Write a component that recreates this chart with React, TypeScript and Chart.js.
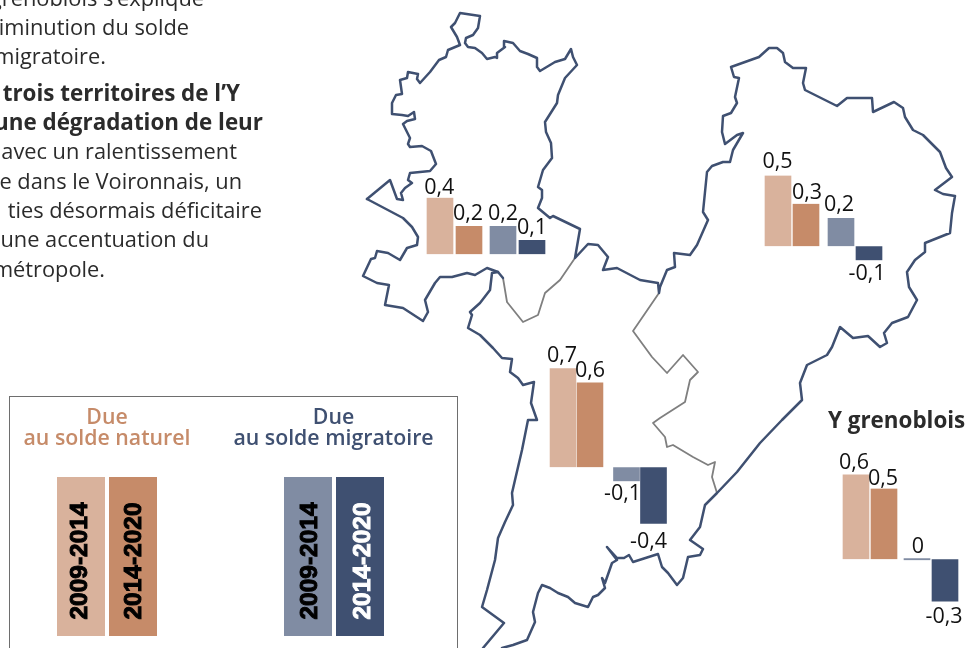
import React, { useEffect, useRef } from 'react';
import Chart from 'chart.js/auto';

// ---------- Data ----------
const territories = ['Pays voironnais', 'Grésivaudan', 'Grenoble-Alpes Métropole', 'Y grenoblois'];
const components = ['Due au solde naturel', 'Due au solde migratoire'];
const periods = ['2009-2014', '2014-2020'];
const naturel2009 = [0.4, 0.5, 0.7, 0.6];
const naturel2014 = [0.2, 0.3, 0.6, 0.5];
const migratoire2009 = [0.2, 0.2, -0.1, 0];
const migratoire2014 = [0.1, -0.1, -0.4, -0.3];

const colors = { nat09: '#D9B29C', nat14: '#C68B69', mig09: '#808CA3', mig14: '#3F5071' };

// Map outlines (map coordinates)
const outerNorthX = [367,390,397,403,401,405,412,408,410,430,436,431,422,410,408,410,407,403,407,415,414,408,402,392,392,396,402,400,407,408,418,417,420,430,439,446,448,460,457,451,455,460,480,478,473,466,465,468,475,482,487,495,497,497,505,504,513,520,528,537,537,540,555,565,571,573,577,565,558,557,545,546,551,552,543,538,542,542,538,550,553,580,575,588,598,608,603,617,640,658,659,660,667,675,674,690,697,708,703,707,712,723,730,733,743,737,725,722,723,731,737,735,739,734,731,759,769,777,783,785,793,806,803,805,837,847,872,873,894,903,905,913,923,940,946,952,935,943,955,952,950,925,925,915,907,909,917,908,892,884,887,880,868,853,840,832,827,807,800,802,782,760,737,717,705,700,690,703,700,688,683,677,668,662,658,633,629,624,617,607,617,612,605,602,605,598,593,588,575,568,558,550,542,538,533,535,527,513,502];
const outerNorthY = [199,180,199,200,193,188,183,180,173,171,164,151,146,147,144,138,132,124,121,119,112,116,115,114,103,95,94,80,78,72,74,79,83,72,60,57,50,45,37,27,23,13,16,28,35,38,43,47,48,53,59,57,58,53,47,41,43,51,54,58,67,71,62,59,49,57,65,78,95,103,122,132,143,158,170,187,190,198,208,218,216,229,258,244,245,257,270,268,280,283,293,287,270,267,253,255,245,220,212,172,166,162,162,150,133,135,144,132,116,113,103,97,78,77,67,57,48,48,53,62,68,68,83,90,106,98,98,112,102,108,117,130,135,152,168,177,190,194,196,213,233,243,252,260,272,287,300,317,323,333,343,347,336,338,327,347,355,365,383,400,420,443,472,493,505,527,540,549,555,557,578,585,573,567,554,562,555,558,558,547,560,563,583,578,588,595,597,607,603,597,593,588,585,593,612,622,640,645,648];
const westSouthX = [367,403,412,418,417,407,400,388,377,375,371,363,377,389,385,403,423,428,425,435,440,452,467,475,487,498,503];
const westSouthY = [199,218,227,237,245,248,260,253,251,258,259,276,283,285,305,308,321,312,300,283,277,277,273,275,268,272,278];
const westBorderX = [483,504,482,487,495,498,505,513,512,515,522,528,537,531,534,523,518,510,512,502,493,480,468,472,470,480,490,492,498];
const westBorderY = [648,623,607,590,560,538,522,505,493,480,450,420,420,403,382,385,378,372,359,358,348,335,328,315,312,303,290,273,272];
const innerGrayAX = [503,507,523,538,545,560,575];
const innerGrayAY = [278,302,322,315,293,280,258];
const innerGrayBX = [659,633,652,667,683,698,690,685,660,653,665,667,673,693,708,715,712,717];
const innerGrayBY = [293,331,357,373,355,372,380,402,418,423,437,447,445,457,465,462,477,493];

// Page text
const bodyLines = [
  { text: 'Y grenoblois s’explique', end: 204, base: 6, bold: false },
  { text: 'diminution du solde', end: 189, base: 35, bold: false },
  { text: 'migratoire.', end: 106, base: 64, bold: false },
  { text: 'trois territoires de l’Y', end: 240, base: 101, bold: true },
  { text: 'une dégradation de leur', end: 263, base: 130, bold: true },
  { text: 'avec un ralentissement', end: 237, base: 159, bold: false },
  { text: 'e dans le Voironnais, un', end: 242, base: 189, bold: false },
  { text: 'ties désormais déficitaire', end: 262, base: 218, bold: false },
  { text: 'une accentuation du', end: 209, base: 247, bold: false },
  { text: 'métropole.', end: 105, base: 277, bold: false },
];

// Placement of the four small charts on the page
const layouts = [
  { c1: 454.5, c2: 517.5, baseline: 254, pitch: 29, labelDx: [-0.7, -1, 0, 0], labelGap: [4, 6, 6, 6] },
  { c1: 792, c2: 855, baseline: 246, pitch: 28, labelDx: [-0.5, 1, -2, -2], labelGap: [8, 5, 7, 20] },
  { c1: 576.5, c2: 640, baseline: 467, pitch: 27, labelDx: [-1, 0, -4, -5], labelGap: [6, 5, 19, 24] },
  { c1: 870, c2: 931, baseline: 559, pitch: 28, labelDx: [-2, -1, 1, -1], labelGap: [5, 4, 5, 21] },
];

const MARGIN = 22;
const Y_MAX = 0.9;
const Y_MIN = -0.6;
const CHART_HEIGHT = 212;
const BASE_OFFSET = 127;

function fmt(v: number) {
  return v === 0 ? '0' : v.toFixed(1).replace('.', ',');
}

function toPoints(xs: number[], ys: number[]) {
  return xs.map((x, i) => ({ x, y: ys[i] }));
}

function MapChart() {
  const ref = useRef<HTMLCanvasElement>(null);
  useEffect(() => {
    const blue = { borderColor: '#3F5071', borderWidth: 2.5, pointRadius: 0, showLine: true, tension: 0, borderJoinStyle: 'round' as const, borderCapStyle: 'round' as const, parsing: false as const };
    const gray = { ...blue, borderColor: '#7F7F7F', borderWidth: 1.8 };
    const chart = new Chart(ref.current!, {
      type: 'scatter',
      data: {
        datasets: [
          { label: 'Contour nord', data: toPoints(outerNorthX, outerNorthY), ...blue },
          { label: 'Contour sud-ouest', data: toPoints(westSouthX, westSouthY), ...blue },
          { label: 'Limite ouest', data: toPoints(westBorderX, westBorderY), ...blue },
          { label: 'Limite interne A', data: toPoints(innerGrayAX, innerGrayAY), ...gray },
          { label: 'Limite interne B', data: toPoints(innerGrayBX, innerGrayBY), ...gray },
        ],
      },
      options: {
        animation: false,
        responsive: false,
        layout: { padding: 0 },
        plugins: { legend: { display: false }, tooltip: { enabled: false } },
        scales: {
          x: { type: 'linear', display: false, min: 0, max: 969 },
          y: { type: 'linear', display: false, min: 0, max: 648, reverse: true },
        },
      },
    });
    return () => chart.destroy();
  }, []);
  return <canvas ref={ref} width={969} height={648} style={{ position: 'absolute', left: 0, top: 0, display: 'block' }} />;
}

function Bars({ index }: { index: number }) {
  const ref = useRef<HTMLCanvasElement>(null);
  const l = layouts[index];
  const band = l.c2 - l.c1;
  const rawLeft = l.c1 - band / 2 - MARGIN;
  const left = Math.floor(rawLeft);
  const padLeft = rawLeft - left + MARGIN;
  const width = Math.ceil(padLeft + 2 * band + MARGIN);
  const padRight = width - padLeft - 2 * band;
  const top = l.baseline - BASE_OFFSET;

  useEffect(() => {
    const side = (l.pitch - 26) / 2;
    const common = {
      barThickness: l.pitch,
      minBarLength: 2,
      borderColor: 'rgba(0,0,0,0)',
      borderWidth: { left: side, right: side, top: 0, bottom: 0 },
      borderSkipped: false as const,
    };
    const valueLabels = {
      id: 'valueLabels',
      afterDatasetsDraw(chart: any) {
        const ctx = chart.ctx;
        ctx.save();
        ctx.font = '21.5px "Open Sans"';
        ctx.fillStyle = '#111111';
        ctx.textAlign = 'center';
        ctx.textBaseline = 'alphabetic';
        chart.data.datasets.forEach((ds: any, di: number) => {
          chart.getDatasetMeta(di).data.forEach((el: any, i: number) => {
            const v = ds.data[i];
            const k = i * 2 + di;
            const y = v >= 0 ? Math.min(el.y, el.base) - l.labelGap[k] : Math.max(el.y, el.base) + l.labelGap[k];
            ctx.fillText(fmt(v), el.x + l.labelDx[k], y);
          });
        });
        ctx.restore();
      },
    };
    const chart = new Chart(ref.current!, {
      type: 'bar',
      data: {
        labels: components,
        datasets: [
          { label: periods[0], data: [naturel2009[index], migratoire2009[index]], backgroundColor: [colors.nat09, colors.mig09], ...common },
          { label: periods[1], data: [naturel2014[index], migratoire2014[index]], backgroundColor: [colors.nat14, colors.mig14], ...common },
        ],
      },
      options: {
        animation: false,
        responsive: false,
        layout: { padding: { left: padLeft, right: padRight, top: 0, bottom: 0 } },
        plugins: { legend: { display: false }, tooltip: { enabled: false }, title: { display: false, text: territories[index] } },
        scales: {
          x: { type: 'category', display: false, offset: true },
          y: { type: 'linear', display: false, min: Y_MIN, max: Y_MAX },
        },
      },
      plugins: [valueLabels],
    });
    return () => chart.destroy();
  }, []);
  return <canvas ref={ref} width={width} height={CHART_HEIGHT} style={{ position: 'absolute', left, top, display: 'block' }} />;
}

const FS = 21.8;
const FS_BOLD = 22.4;
const FS_HEAD = 21.3;
function baseText(base: number, fs: number, lh: number) {
  return base - ((lh - 1.362 * fs) / 2 + 1.069 * fs);
}

function LegendBar({ left, color, text, textColor, dx }: { left: number; color: string; text: string; textColor: string; dx: number }) {
  return (
    <div style={{ position: 'absolute', left, top: 477, width: 48, height: 159, background: color }}>
      <div
        style={{
          position: 'absolute',
          left: 24 + dx,
          top: 84,
          transform: 'translate(-50%,-50%) rotate(-90deg)',
          font: 'bold 24.5px "Liberation Sans"',
          color: textColor,
          WebkitTextStroke: `1px ${textColor}`,
          whiteSpace: 'nowrap',
        }}
      >
        {text}
      </div>
    </div>
  );
}

export default function App() {
  useEffect(() => {
    document.body.style.margin = '0';
  }, []);
  const head = (text: string, cx: number, base: number, color: string) => (
    <div
      style={{
        position: 'absolute',
        left: cx - 150,
        width: 300,
        textAlign: 'center',
        top: baseText(base, FS_HEAD, 24),
        font: `600 ${FS_HEAD}px/24px "Open Sans"`,
        color,
        whiteSpace: 'nowrap',
      }}
    >
      {text}
    </div>
  );
  return (
    <div style={{ position: 'fixed', left: 0, top: 0, width: 969, height: 648, overflow: 'hidden', background: '#fff' }}>
      <MapChart />
      {bodyLines.map((l, i) => (
        <div
          key={i}
          style={{
            position: 'absolute',
            right: 969 - l.end,
            top: baseText(l.base, l.bold ? FS_BOLD : FS, 29),
            font: `${l.bold ? 700 : 400} ${l.bold ? FS_BOLD : FS}px/29px "Open Sans"`,
            color: '#2B2B2B',
            whiteSpace: 'nowrap',
          }}
        >
          {l.text}
        </div>
      ))}
      <div style={{ position: 'absolute', left: 9, top: 396, width: 449, height: 300, border: '1px solid #6E6E6E', boxSizing: 'border-box' }} />
      {head('Due', 107, 424, colors.nat14)}
      {head('au solde naturel', 107, 445, colors.nat14)}
      {head('Due', 333.5, 424, colors.mig14)}
      {head('au solde migratoire', 333.5, 445, colors.mig14)}
      <LegendBar left={57} color={colors.nat09} text={periods[0]} textColor="#000" dx={-2} />
      <LegendBar left={109} color={colors.nat14} text={periods[1]} textColor="#000" dx={0} />
      <LegendBar left={284} color={colors.mig09} text={periods[0]} textColor="#000" dx={1} />
      <LegendBar left={336} color={colors.mig14} text={periods[1]} textColor="#fff" dx={2} />
      <div
        style={{
          position: 'absolute',
          left: 828,
          top: baseText(428, FS_BOLD, 29),
          font: `700 ${FS_BOLD}px/29px "Open Sans"`,
          color: '#2B2B2B',
          whiteSpace: 'nowrap',
        }}
      >
        Y grenoblois
      </div>
      {layouts.map((_, i) => (
        <Bars key={i} index={i} />
      ))}
    </div>
  );
}
